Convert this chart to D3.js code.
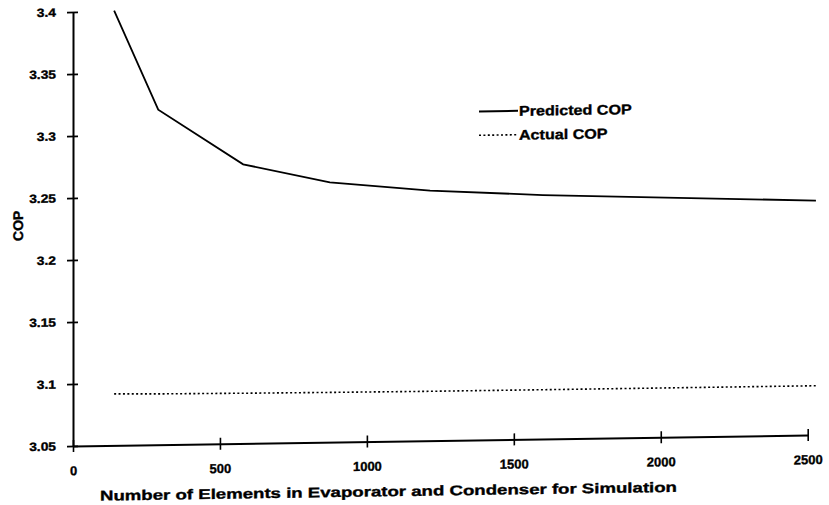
<!DOCTYPE html>
<html><head><meta charset="utf-8">
<script src="https://cdn.jsdelivr.net/npm/d3@7"></script>
<style>body{margin:0;background:#fff}svg{display:block}text{font-family:"Liberation Sans",Arial,Helvetica,sans-serif;font-weight:bold;fill:#000;stroke:#000;stroke-width:0.35px}</style>
</head><body><svg id="c" width="829" height="505"></svg>
<script>
// Data
const elements = [140, 290, 579, 874, 1215, 1599, 2528];
const predictedCOP = [3.4006, 3.3202, 3.2751, 3.2595, 3.2517, 3.2467, 3.2389];
const actualCOP = [3.0915, 3.0910, 3.0905, 3.0901, 3.0898, 3.0897, 3.0896];
const xTicks = [0, 500, 1000, 1500, 2000, 2500];
const yTicks = [3.05, 3.1, 3.15, 3.2, 3.25, 3.3, 3.35, 3.4];
const yTickLabels = ["3.05", "3.1", "3.15", "3.2", "3.25", "3.3", "3.35", "3.4"];
const legendLabels = ["Predicted COP", "Actual COP"];
const xTitle = "Number of Elements in Evaporator and Condenser for Simulation";
const yTitle = "COP";

const svg = d3.select("#c");
const x0 = 73, y0 = 446;
// scanned picture is slightly sheared
const g = svg.append("g").attr("transform", `translate(${x0},${y0}) skewY(-0.86) translate(${-x0},${-y0})`);

const x = d3.scaleLinear().domain([0, 2500]).range([73, 807.7]);
const y = d3.scaleLinear().domain([3.05, 3.4]).range([446, 12]);

function stretch(sel, f) {
  sel.each(function() {
    const w = this.getComputedTextLength();
    d3.select(this).attr("textLength", w * f).attr("lengthAdjust", "spacingAndGlyphs");
  });
}

// Y axis
const yAxis = g.append("g").attr("transform", `translate(${x0},0)`)
  .call(d3.axisLeft(y).tickValues(yTicks).tickFormat((d, i) => yTickLabels[i]).tickSizeInner(6).tickSizeOuter(0).tickPadding(11));
yAxis.select(".domain").attr("stroke", "#000").attr("stroke-width", 2);
yAxis.selectAll(".tick line").attr("x1", 5).attr("x2", -6).attr("stroke-width", 1.6);
yAxis.selectAll(".tick text").style("font-size", "12px").style("font-family", "Liberation Sans, Arial, sans-serif").style("font-weight", "bold").attr("fill", "#000");
stretch(yAxis.selectAll(".tick text"), 1.15);

// X axis
const xAxis = g.append("g").attr("transform", `translate(0,${y0})`)
  .call(d3.axisBottom(x).tickValues(xTicks).tickFormat(d3.format("d")).tickSizeInner(6).tickSizeOuter(0).tickPadding(14));
xAxis.select(".domain").attr("stroke", "#000").attr("stroke-width", 2);
xAxis.selectAll(".tick line").attr("y1", -6).attr("y2", 6).attr("stroke-width", 1.6);
xAxis.selectAll(".tick text").style("font-size", "13px").style("font-family", "Liberation Sans, Arial, sans-serif").style("font-weight", "bold").attr("fill", "#000");

// Lines
const line = d3.line().x(d => x(d[0])).y(d => y(d[1]));
g.append("path").datum(elements.map((e, i) => [e, predictedCOP[i]]))
  .attr("d", line).attr("fill", "none").attr("stroke", "#000").attr("stroke-width", 1.8);
g.append("path").datum(elements.map((e, i) => [e, actualCOP[i]]))
  .attr("d", line).attr("fill", "none").attr("stroke", "#000").attr("stroke-width", 1.6).attr("stroke-dasharray", "2,2.4");

// Legend
const leg = g.append("g");
const legY = [117.5, 141.4];
leg.selectAll("line").data(legendLabels).join("line")
  .attr("x1", 479).attr("x2", 518).attr("y1", (d, i) => legY[i]).attr("y2", (d, i) => legY[i])
  .attr("stroke", "#000").attr("stroke-width", (d, i) => i ? 1.6 : 2)
  .attr("stroke-dasharray", (d, i) => i ? "2,2.4" : null);
const lt = leg.selectAll("text").data(legendLabels).join("text")
  .attr("x", 519).attr("y", (d, i) => legY[i] + 5).style("font-size", "14px").text(d => d);
stretch(lt, 1.15);

// Titles
const xt = g.append("text").attr("x", 388.5).attr("y", 501).attr("text-anchor", "middle")
  .style("font-size", "14px").text(xTitle);
xt.attr("textLength", 577).attr("lengthAdjust", "spacingAndGlyphs");
const yt = g.append("text").attr("transform", "translate(23,225) rotate(-90)").attr("text-anchor", "middle")
  .style("font-size", "14px").text(yTitle);
</script></body></html>
